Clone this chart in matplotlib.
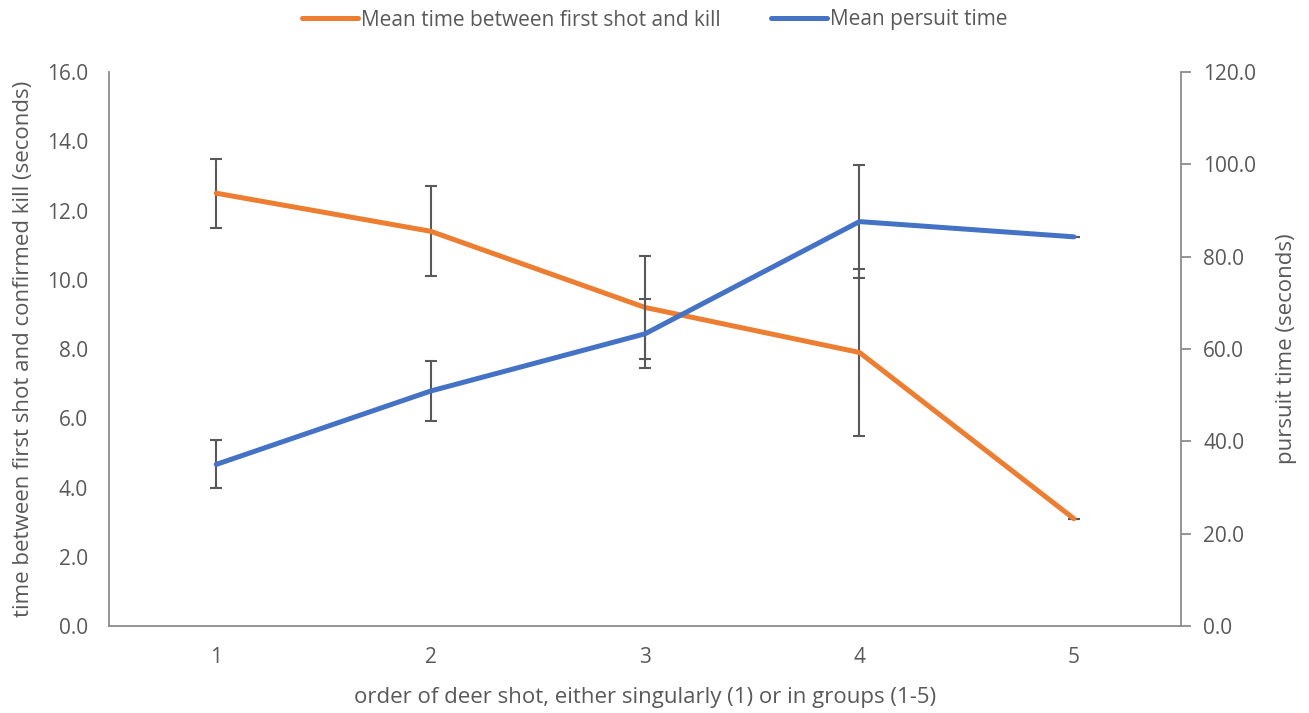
import numpy as np
import matplotlib
matplotlib.use("Agg")
from matplotlib import pyplot as plt

# order of deer shot
order = [1, 2, 3, 4, 5]

# mean time between first shot and confirmed kill (s), left axis
kill_mean = [12.5, 11.4, 9.2, 7.9, 3.1]
kill_err = [1.0, 1.3, 1.5, 2.4, 0.0]

# mean pursuit time (s), right axis
pursuit_mean = [35.0, 50.9, 63.3, 87.6, 84.3]
pursuit_err = [5.2, 6.5, 7.5, 12.2, 0.0]

left_ticks = np.arange(0, 16.1, 2)
right_ticks = np.arange(0, 120.1, 20)

orange = '#ED7D31'
blue = '#4472C4'
text_c = '#595959'
axis_c = '#8c8c8c'

plt.rcParams['font.family'] = ['Open Sans', 'DejaVu Sans']

fig = plt.figure(figsize=(13.09, 7.13), dpi=100)
ax = fig.add_axes([0.0833, 0.122, 0.819, 0.777])
ax2 = ax.twinx()

ax.errorbar(order, kill_mean, yerr=kill_err, fmt='none', ecolor='#595959',
            elinewidth=1.5, capsize=4.5, capthick=1.5, zorder=2)
l1, = ax.plot(order, kill_mean, color=orange, linewidth=3.6,
              solid_capstyle='round', zorder=3,
              label='Mean time between first shot and kill')

ax2.errorbar(order, pursuit_mean, yerr=pursuit_err, fmt='none', ecolor='#595959',
             elinewidth=1.5, capsize=4.5, capthick=1.5, zorder=2)
l2, = ax2.plot(order, pursuit_mean, color=blue, linewidth=3.6,
               solid_capstyle='round', zorder=3, label='Mean persuit time')

ax.set_xlim(0.5, 5.5)
ax.set_ylim(0, 16)
ax2.set_ylim(0, 120)
ax.set_xticks(order)
ax.set_yticks(left_ticks)
ax.set_yticklabels([f'{v:.1f}' for v in left_ticks])
ax2.set_yticks(right_ticks)
ax2.set_yticklabels([f'{v:.1f}' for v in right_ticks])

for a in (ax, ax2):
    for s in a.spines.values():
        s.set_color(axis_c)
        s.set_linewidth(1.3)
    a.spines['top'].set_visible(False)
ax.spines['right'].set_visible(False)
ax2.spines['left'].set_visible(False)
ax2.spines['bottom'].set_visible(False)

ax.tick_params(axis='x', length=0, pad=15, labelsize=15, labelcolor=text_c)
ax.tick_params(axis='y', length=0, pad=15, labelsize=15, labelcolor=text_c)
ax2.tick_params(axis='y', length=7, width=1.3, color=axis_c, pad=9,
                labelsize=15, labelcolor=text_c)

ax.set_xlabel('order of deer shot, either singularly (1) or in groups (1-5)',
              fontsize=16, color=text_c, labelpad=14)
ax.set_ylabel('time between first shot and confirmed kill (seconds)',
              fontsize=16, color=text_c, labelpad=9)
ax2.set_ylabel('pursuit time (seconds)', fontsize=16, color=text_c, labelpad=14)

fig.legend(handles=[l1, l2], loc='center', bbox_to_anchor=(0.5, 1 - 20 / 713),
           ncol=2, frameon=False, fontsize=15, handlelength=2.7,
           handletextpad=0.15, columnspacing=2.4, labelcolor=text_c,
           borderpad=0)

fig.savefig('out.png', dpi=100)
